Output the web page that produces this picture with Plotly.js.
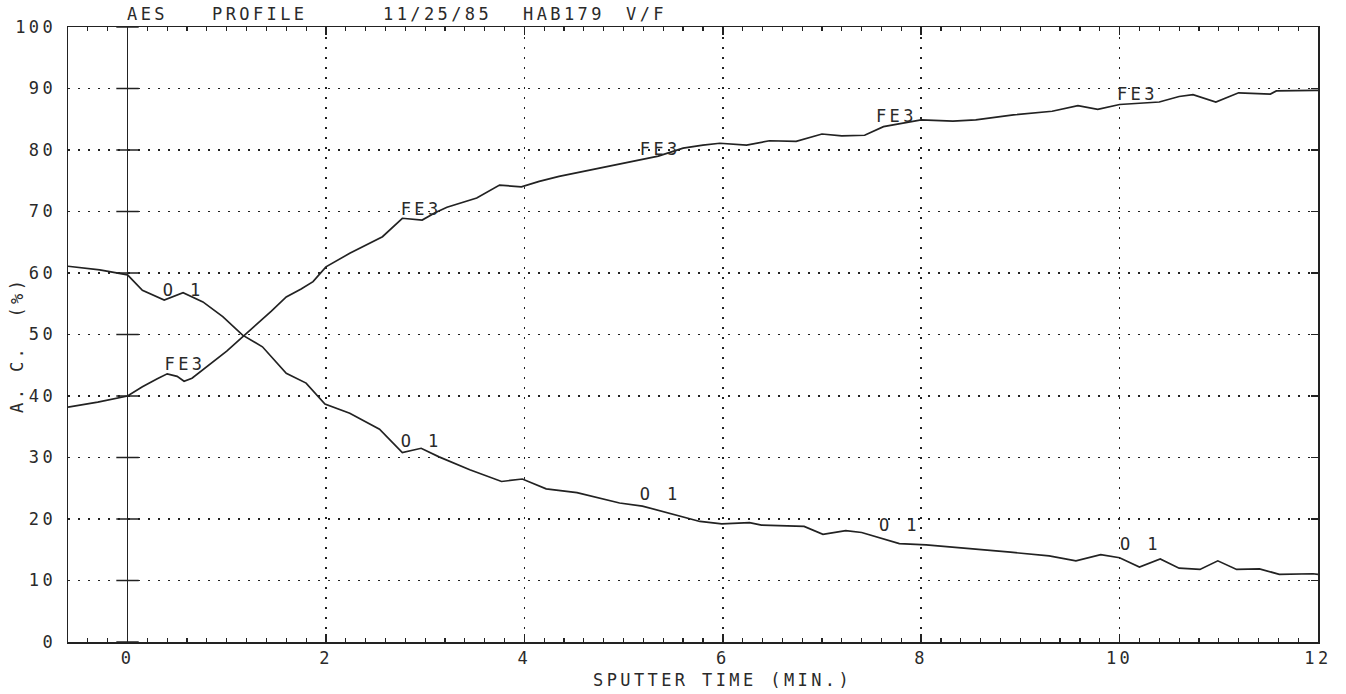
<!DOCTYPE html>
<html>
<head>
<meta charset="utf-8">
<script src="https://cdn.plot.ly/plotly-3.0.1.min.js"></script>
<style>
  html, body { margin: 0; padding: 0; background: #fff; }
  #chart { width: 1346px; height: 694px; }
  svg text { letter-spacing: 3.4px; }
</style>
</head>
<body>
<div id="chart"></div>
<script>
// ---- data ----
const fe3X = [-0.6, -0.3, 0.0, 0.15, 0.3, 0.4, 0.5, 0.57, 0.65, 0.75, 0.9, 1.0, 1.16, 1.3, 1.45, 1.6, 1.75, 1.87,
  2.0, 2.24, 2.4, 2.57, 2.77, 2.97, 3.1, 3.22, 3.52, 3.75, 3.97, 4.15, 4.35, 4.59, 4.85, 5.09, 5.35, 5.6, 5.8, 5.97,
  6.24, 6.47, 6.74, 7.0, 7.2, 7.43, 7.62, 8.0, 8.32, 8.55, 8.93, 9.32, 9.58, 9.78, 10.0, 10.2, 10.4, 10.6, 10.74,
  10.97, 11.2, 11.52, 11.58, 11.97, 12.0];
const fe3Y = [38.2, 39.0, 40.0, 41.5, 42.8, 43.6, 43.2, 42.4, 42.9, 44.2, 46.0, 47.3, 49.6, 51.6, 53.8, 56.1, 57.4, 58.6,
  61.0, 63.2, 64.5, 65.9, 68.9, 68.6, 69.8, 70.7, 72.2, 74.3, 74.0, 74.9, 75.7, 76.5, 77.4, 78.1, 79.0, 80.3, 80.8, 81.1,
  80.8, 81.5, 81.4, 82.6, 82.3, 82.4, 83.8, 84.9, 84.7, 84.9, 85.7, 86.3, 87.2, 86.6, 87.4, 87.6, 87.8, 88.7, 89.0,
  87.8, 89.3, 89.1, 89.6, 89.7, 89.7];

const o1X = [-0.6, -0.28, 0.0, 0.15, 0.37, 0.56, 0.76, 0.96, 1.16, 1.36, 1.6, 1.8, 1.99, 2.24, 2.54, 2.77, 2.96, 3.14,
  3.45, 3.77, 3.98, 4.22, 4.53, 4.96, 5.19, 5.5, 5.77, 5.99, 6.27, 6.39, 6.82, 7.01, 7.24, 7.4, 7.67, 7.78, 8.05, 8.52,
  8.9, 9.29, 9.56, 9.81, 10.0, 10.2, 10.41, 10.6, 10.81, 10.99, 11.18, 11.41, 11.61, 11.95, 12.0];
const o1Y = [61.1, 60.5, 59.7, 57.2, 55.6, 56.8, 55.3, 52.9, 49.9, 48.0, 43.7, 42.1, 38.7, 37.2, 34.6, 30.8, 31.5, 30.1,
  28.0, 26.1, 26.5, 24.9, 24.3, 22.6, 22.1, 20.8, 19.6, 19.2, 19.4, 19.0, 18.8, 17.5, 18.1, 17.8, 16.5, 16.0, 15.8, 15.2,
  14.6, 14.0, 13.2, 14.2, 13.7, 12.2, 13.5, 12.0, 11.8, 13.2, 11.8, 11.9, 11.0, 11.1, 11.0];

const fe3LabelX = [0.58, 2.96, 5.37, 7.75, 10.18];
const fe3LabelY = [45.0, 70.2, 79.9, 85.3, 88.8];
const o1LabelX = [0.56, 2.96, 5.37, 7.78, 10.21];
const o1LabelY = [56.9, 32.4, 23.8, 18.7, 15.6];

const xTickStep = 2;
const xMinorStep = 0.2;
const yTickVals = [0, 10, 20, 30, 40, 50, 60, 70, 80, 90, 100];

const titleWords = ["AES", "PROFILE", "11/25/85", "HAB179", "V/F"];
const titleWordX = [-0.03, 0.83, 2.55, 3.97, 5.0];
const xTitle = "SPUTTER TIME (MIN.)";
const yTitle = "A. C.  (%)";
const fe3Name = "FE3";
const o1Name = "O 1";

// ---- styling ----
const INK = "#222";
const FONT = "DejaVu Sans Mono, monospace";
const font = { family: FONT, size: 17, color: "#2a2a2a" };

const traces = [
  { x: fe3X, y: fe3Y, type: "scatter", mode: "lines", name: fe3Name,
    line: { color: INK, width: 1.7 }, hoverinfo: "skip" },
  { x: o1X, y: o1Y, type: "scatter", mode: "lines", name: o1Name,
    line: { color: INK, width: 1.7 }, hoverinfo: "skip" },
  { x: fe3LabelX, y: fe3LabelY, type: "scatter", mode: "text",
    text: fe3LabelX.map(() => fe3Name), textposition: "middle center",
    textfont: font, hoverinfo: "skip" },
  { x: o1LabelX, y: o1LabelY, type: "scatter", mode: "text",
    text: o1LabelX.map(() => o1Name), textposition: "middle center",
    textfont: font, hoverinfo: "skip" },
  // small tick crosses on the solid x = 0 line
  { x: yTickVals.map(() => 0), y: yTickVals, type: "scatter", mode: "markers", yaxis: "y2",
    marker: { symbol: "line-ew", size: 16, line: { color: INK, width: 1.5 } }, hoverinfo: "skip" }
];

const annotations = titleWords.map((w, i) => ({
  text: w, x: titleWordX[i], xref: "x", xanchor: "left",
  y: 1, yref: "paper", yanchor: "bottom", yshift: 1,
  showarrow: false, font: font
}));
annotations.push({
  text: xTitle, x: 6, xref: "x", xanchor: "center",
  y: 0, yref: "paper", yanchor: "top", yshift: -26,
  showarrow: false, font: font
});
annotations.push({
  text: yTitle, textangle: -90, x: -0.0408, xref: "paper", xanchor: "center",
  y: 48.3, yref: "y", yanchor: "middle",
  showarrow: false, font: font
});

const dotGrid = "2px,8px";

const layout = {
  width: 1346, height: 694,
  margin: { l: 68, r: 28, t: 27, b: 52 },
  paper_bgcolor: "#fff", plot_bgcolor: "#fff",
  showlegend: false,
  font: font,
  xaxis: {
    range: [-0.6, 12], tickmode: "linear", tick0: 0, dtick: xTickStep,
    ticks: "inside", ticklen: 8, tickwidth: 1.5, tickcolor: INK,
    minor: { dtick: xMinorStep, tick0: 0, ticks: "inside", ticklen: 4, tickwidth: 1.2, tickcolor: INK, showgrid: false },
    showline: true, linecolor: INK, linewidth: 1.5, mirror: "ticks",
    showgrid: true, gridcolor: INK, gridwidth: 1.6, griddash: dotGrid,
    zeroline: true, zerolinecolor: INK, zerolinewidth: 1.5,
    tickfont: font, ticklabelstandoff: 0, fixedrange: true
  },
  yaxis: {
    range: [0, 100], tickmode: "array", tickvals: yTickVals, ticktext: yTickVals.map(String),
    ticks: "", showline: true, linecolor: INK, linewidth: 1.5, mirror: true,
    showgrid: true, gridcolor: INK, gridwidth: 1.6, griddash: dotGrid,
    zeroline: false, tickfont: font, ticklabelstandoff: 7, fixedrange: true
  },
  yaxis2: {
    overlaying: "y", side: "right", range: [0, 100], tickmode: "array", tickvals: yTickVals,
    ticks: "inside", ticklen: 7, tickwidth: 1.5, tickcolor: INK, showticklabels: false,
    showgrid: false, zeroline: false, showline: false, fixedrange: true
  },
  annotations: annotations
};

Plotly.newPlot("chart", traces, layout, { displayModeBar: false, staticPlot: true });
</script>
</body>
</html>
